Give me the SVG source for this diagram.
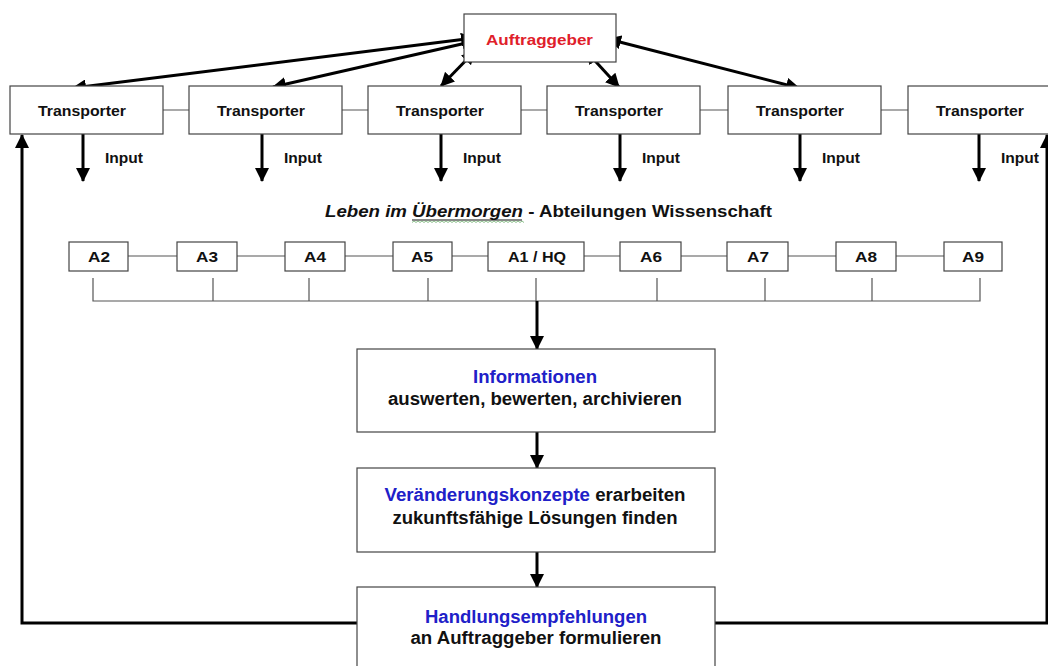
<svg xmlns="http://www.w3.org/2000/svg" width="1048" height="666" viewBox="0 0 1048 666">
<style>
text{font-family:"Liberation Sans",Arial,sans-serif;font-weight:bold;fill:#111;}
.box{fill:#fff;stroke:#444;stroke-width:1.2;}
.thin{stroke:#555;stroke-width:1.2;fill:none;}
.thick{stroke:#000;stroke-width:3;fill:none;}
.tr{font-size:15px;}
.big{font-size:17.5px;text-anchor:middle;}
.blue{fill:#2020c8;}
.red{fill:#e0202a;}
.al{font-size:15px;text-anchor:middle;}
</style>
<defs>
<marker id="ah" viewBox="0 0 14 14" refX="13" refY="7" markerWidth="14" markerHeight="14" markerUnits="userSpaceOnUse" orient="auto-start-reverse">
<path d="M0,0 L14,7 L0,14 Z" fill="#000"/>
</marker>
</defs>
<rect width="1048" height="666" fill="#fff"/>

<g id="connectors">
<line class="thin" x1="153" y1="110" x2="200" y2="110"/>
<line class="thin" x1="332" y1="110" x2="380" y2="110"/>
<line class="thin" x1="511" y1="110" x2="559" y2="110"/>
<line class="thin" x1="690" y1="110" x2="739" y2="110"/>
<line class="thin" x1="871" y1="110" x2="919" y2="110"/>
<line class="thick" x1="474" y1="38" x2="73" y2="88" marker-start="url(#ah)" marker-end="url(#ah)"/>
<line class="thick" x1="475" y1="41" x2="273" y2="87" marker-start="url(#ah)" marker-end="url(#ah)"/>
<line class="thick" x1="475" y1="51" x2="441" y2="86" marker-start="url(#ah)" marker-end="url(#ah)"/>
<line class="thick" x1="586" y1="51" x2="619" y2="87" marker-start="url(#ah)" marker-end="url(#ah)"/>
<line class="thick" x1="608" y1="39" x2="799" y2="88" marker-start="url(#ah)" marker-end="url(#ah)"/>
<line class="thick" x1="83" y1="134" x2="83" y2="181" marker-end="url(#ah)"/>
<line class="thick" x1="262" y1="134" x2="262" y2="181" marker-end="url(#ah)"/>
<line class="thick" x1="441" y1="134" x2="441" y2="181" marker-end="url(#ah)"/>
<line class="thick" x1="620" y1="134" x2="620" y2="181" marker-end="url(#ah)"/>
<line class="thick" x1="800" y1="134" x2="800" y2="181" marker-end="url(#ah)"/>
<line class="thick" x1="979" y1="134" x2="979" y2="181" marker-end="url(#ah)"/>
<line class="thin" x1="128" y1="256" x2="177" y2="256"/>
<line class="thin" x1="237" y1="256" x2="285" y2="256"/>
<line class="thin" x1="345" y1="256" x2="393" y2="256"/>
<line class="thin" x1="452" y1="256" x2="488" y2="256"/>
<line class="thin" x1="584" y1="256" x2="620" y2="256"/>
<line class="thin" x1="681" y1="256" x2="727" y2="256"/>
<line class="thin" x1="788" y1="256" x2="836" y2="256"/>
<line class="thin" x1="896" y1="256" x2="944" y2="256"/>
<path class="thin" d="M93,278 V301 H980 V278 M213,278 V301 M309,278 V301 M428,278 V301 M536,278 V301 M657,278 V301 M765,278 V301 M872,278 V301"/>
<line class="thick" x1="537" y1="301" x2="537" y2="349" marker-end="url(#ah)"/>
<line class="thick" x1="537" y1="432" x2="537" y2="468" marker-end="url(#ah)"/>
<line class="thick" x1="537" y1="552" x2="537" y2="587" marker-end="url(#ah)"/>
<path class="thick" d="M357,623 H22 V135" marker-end="url(#ah)"/>
<path class="thick" d="M715,623 H1047 V135" marker-end="url(#ah)"/>
</g>

<g id="auftraggeber">
<rect class="box" x="464" y="14" width="152" height="48"/>
<text class="red" x="486" y="45" font-size="15" textLength="107" lengthAdjust="spacingAndGlyphs">Auftraggeber</text>
</g>

<g id="transporter1">
<rect class="box" x="10" y="86" width="153" height="48"/>
<text class="tr" x="38" y="116" textLength="88" lengthAdjust="spacingAndGlyphs">Transporter</text>
<text class="tr" x="105" y="163" textLength="38" lengthAdjust="spacingAndGlyphs">Input</text>
</g>
<g id="transporter2">
<rect class="box" x="189" y="86" width="153" height="48"/>
<text class="tr" x="217" y="116" textLength="88" lengthAdjust="spacingAndGlyphs">Transporter</text>
<text class="tr" x="284" y="163" textLength="38" lengthAdjust="spacingAndGlyphs">Input</text>
</g>
<g id="transporter3">
<rect class="box" x="368" y="86" width="153" height="48"/>
<text class="tr" x="396" y="116" textLength="88" lengthAdjust="spacingAndGlyphs">Transporter</text>
<text class="tr" x="463" y="163" textLength="38" lengthAdjust="spacingAndGlyphs">Input</text>
</g>
<g id="transporter4">
<rect class="box" x="547" y="86" width="153" height="48"/>
<text class="tr" x="575" y="116" textLength="88" lengthAdjust="spacingAndGlyphs">Transporter</text>
<text class="tr" x="642" y="163" textLength="38" lengthAdjust="spacingAndGlyphs">Input</text>
</g>
<g id="transporter5">
<rect class="box" x="728" y="86" width="153" height="48"/>
<text class="tr" x="756" y="116" textLength="88" lengthAdjust="spacingAndGlyphs">Transporter</text>
<text class="tr" x="822" y="163" textLength="38" lengthAdjust="spacingAndGlyphs">Input</text>
</g>
<g id="transporter6">
<rect class="box" x="908" y="86" width="153" height="48"/>
<text class="tr" x="936" y="116" textLength="88" lengthAdjust="spacingAndGlyphs">Transporter</text>
<text class="tr" x="1001" y="163" textLength="38" lengthAdjust="spacingAndGlyphs">Input</text>
</g>

<g id="title">
<text x="325" y="217" font-size="17" textLength="447" lengthAdjust="spacingAndGlyphs"><tspan font-style="italic">Leben im Übermorgen</tspan> - Abteilungen Wissenschaft</text>
<line x1="412" y1="220" x2="522" y2="220" stroke="#111" stroke-width="1"/>
<path d="M412,222.5 l2,-1.5 l2,1.5 l2,-1.5 l2,1.5 l2,-1.5 l2,1.5 l2,-1.5 l2,1.5 l2,-1.5 l2,1.5 l2,-1.5 l2,1.5 l2,-1.5 l2,1.5 l2,-1.5 l2,1.5 l2,-1.5 l2,1.5 l2,-1.5 l2,1.5 l2,-1.5 l2,1.5 l2,-1.5 l2,1.5 l2,-1.5 l2,1.5 l2,-1.5 l2,1.5 l2,-1.5 l2,1.5 l2,-1.5 l2,1.5 l2,-1.5 l2,1.5 l2,-1.5 l2,1.5 l2,-1.5 l2,1.5 l2,-1.5 l2,1.5 l2,-1.5 l2,1.5 l2,-1.5 l2,1.5 l2,-1.5 l2,1.5 l2,-1.5 l2,1.5 l2,-1.5 l2,1.5 l2,-1.5 l2,1.5 l2,-1.5 l2,1.5 l2,-1.5 l2,1.5" fill="none" stroke="#6fb06f" stroke-width="0.8"/>
</g>

<g id="A2"><rect class="box" x="69" y="242" width="59" height="29"/><text class="al" x="99" y="262" textLength="22" lengthAdjust="spacingAndGlyphs">A2</text></g>
<g id="A3"><rect class="box" x="177" y="242" width="60" height="29"/><text class="al" x="207" y="262" textLength="22" lengthAdjust="spacingAndGlyphs">A3</text></g>
<g id="A4"><rect class="box" x="285" y="242" width="60" height="29"/><text class="al" x="315" y="262" textLength="22" lengthAdjust="spacingAndGlyphs">A4</text></g>
<g id="A5"><rect class="box" x="393" y="242" width="59" height="29"/><text class="al" x="422" y="262" textLength="22" lengthAdjust="spacingAndGlyphs">A5</text></g>
<g id="A1HQ"><rect class="box" x="488" y="242" width="96" height="29"/><text class="al" x="537" y="262" textLength="58" lengthAdjust="spacingAndGlyphs">A1 / HQ</text></g>
<g id="A6"><rect class="box" x="620" y="242" width="61" height="29"/><text class="al" x="651" y="262" textLength="22" lengthAdjust="spacingAndGlyphs">A6</text></g>
<g id="A7"><rect class="box" x="727" y="242" width="61" height="29"/><text class="al" x="758" y="262" textLength="22" lengthAdjust="spacingAndGlyphs">A7</text></g>
<g id="A8"><rect class="box" x="836" y="242" width="60" height="29"/><text class="al" x="866" y="262" textLength="22" lengthAdjust="spacingAndGlyphs">A8</text></g>
<g id="A9"><rect class="box" x="944" y="242" width="58" height="29"/><text class="al" x="973" y="262" textLength="22" lengthAdjust="spacingAndGlyphs">A9</text></g>

<g id="informationen">
<rect class="box" x="357" y="349" width="358" height="83"/>
<text class="big blue" x="535" y="383" textLength="124" lengthAdjust="spacingAndGlyphs">Informationen</text>
<text class="big" x="535" y="405" textLength="294" lengthAdjust="spacingAndGlyphs">auswerten, bewerten, archivieren</text>
</g>

<g id="konzepte">
<rect class="box" x="357" y="468" width="358" height="84"/>
<text class="big" x="535" y="501" textLength="301" lengthAdjust="spacingAndGlyphs"><tspan class="blue">Veränderungskonzepte</tspan> erarbeiten</text>
<text class="big" x="535" y="524" textLength="285" lengthAdjust="spacingAndGlyphs">zukunftsfähige Lösungen finden</text>
</g>

<g id="handlung">
<rect class="box" x="357" y="587" width="358" height="100"/>
<text class="big blue" x="536" y="623" textLength="222" lengthAdjust="spacingAndGlyphs">Handlungsempfehlungen</text>
<text class="big" x="536" y="644" textLength="251" lengthAdjust="spacingAndGlyphs">an Auftraggeber formulieren</text>
</g>
</svg>
